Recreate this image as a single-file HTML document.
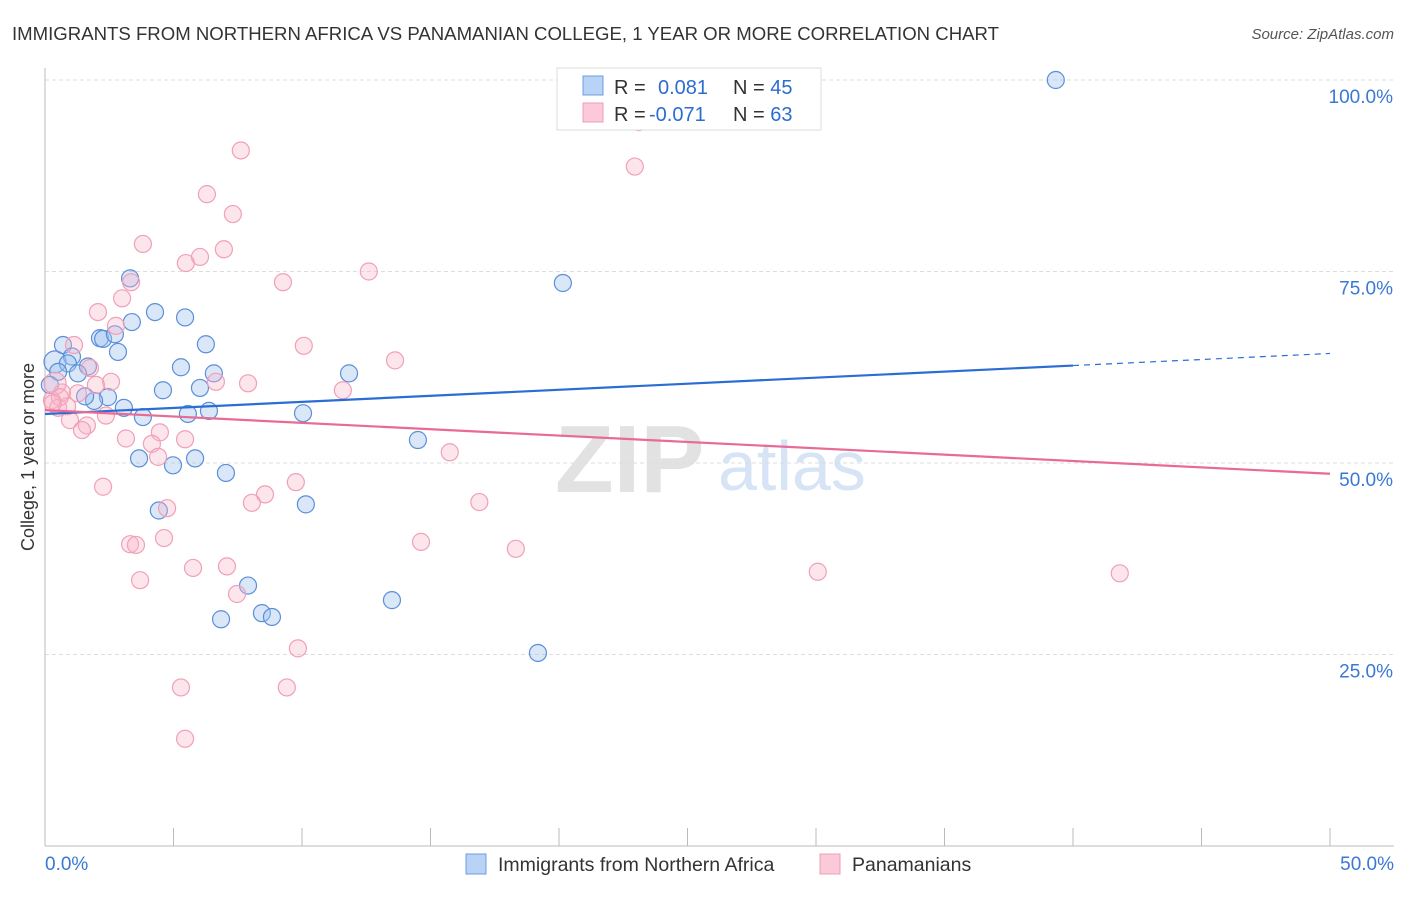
<!DOCTYPE html>
<html><head><meta charset="utf-8"><style>
body{margin:0;background:#fff;font-family:"Liberation Sans",sans-serif}
svg text{font-family:"Liberation Sans",sans-serif}
</style></head><body>
<svg id="chart" width="1406" height="892" xmlns="http://www.w3.org/2000/svg">
<text x="12" y="40" font-size="18.5" fill="#333" textLength="987" lengthAdjust="spacingAndGlyphs">IMMIGRANTS FROM NORTHERN AFRICA VS PANAMANIAN COLLEGE, 1 YEAR OR MORE CORRELATION CHART</text>
<text x="1394" y="39" font-size="15" fill="#555" text-anchor="end" font-style="italic">Source: ZipAtlas.com</text>
<g>
<text x="555" y="492" font-size="96" fill="#e2e2e2" font-family="Liberation Serif,serif" font-weight="bold">ZIP</text>
<text x="718" y="490" font-size="70" fill="#d6e4f5">atlas</text>
</g>
<g id="grid"></g>
<g id="axes"></g>
<g id="pts"></g>
<g id="lines"></g>
<text transform="translate(34,457) rotate(-90)" font-size="18" fill="#333" text-anchor="middle">College, 1 year or more</text>
<g>
<rect x="557" y="68" width="264" height="62" fill="#fff" stroke="#ddd"/>
<rect x="583" y="76" width="20" height="19" fill="#b8d3f5" stroke="#6d9de0"/>
<rect x="583" y="103" width="20" height="19" fill="#fbc9d7" stroke="#ee9fb8"/>
<text x="614" y="94" font-size="20" fill="#333">R = </text>
<text x="658" y="94" font-size="20" fill="#2d6cd0">0.081</text>
<text x="733" y="94" font-size="20" fill="#333">N = <tspan fill="#2d6cd0">45</tspan></text>
<text x="614" y="121" font-size="20" fill="#333">R = </text>
<text x="649" y="121" font-size="20" fill="#2d6cd0">-0.071</text>
<text x="733" y="121" font-size="20" fill="#333">N = <tspan fill="#2d6cd0">63</tspan></text>
</g>
<g>
<rect x="466" y="854" width="20" height="20" fill="#b8d3f5" stroke="#6d9de0"/>
<text x="498" y="871" font-size="19.5" fill="#333">Immigrants from Northern Africa</text>
<rect x="820" y="854" width="20" height="20" fill="#fbc9d7" stroke="#ee9fb8"/>
<text x="852" y="871" font-size="19.5" fill="#333">Panamanians</text>
</g>
</svg>
<script>
const blueX=[39.33,20.15,0.39,0.70,1.05,0.89,0.51,1.67,1.28,2.14,2.26,2.72,2.84,3.31,3.38,4.28,5.45,6.26,5.29,4.59,6.57,6.03,6.38,5.56,3.07,2.45,1.91,1.56,3.81,3.66,4.98,5.84,7.04,4.43,10.15,10.04,11.83,14.51,7.90,6.85,8.44,8.83,13.50,19.18,0.19];
const blueY=[100,73.5,63.2,65.4,63.9,63.0,61.9,62.6,61.7,66.3,66.2,66.8,64.5,74.1,68.4,69.7,69.0,65.5,62.5,59.5,61.7,59.8,56.8,56.4,57.2,58.6,58.1,58.7,56.0,50.6,49.7,50.6,48.7,43.8,44.6,56.5,61.7,53.0,34.0,29.6,30.4,29.9,32.1,25.2,60.2];
const pinkX=[23.1,22.95,7.62,6.30,7.31,3.81,6.03,5.48,6.96,12.60,9.26,3.35,3.00,2.06,2.76,1.13,10.07,13.62,1.75,6.65,7.90,11.59,2.57,1.98,1.28,0.66,0.27,0.51,0.86,2.37,0.97,1.63,1.44,3.15,4.47,5.45,4.16,4.40,15.75,2.26,9.76,8.56,8.05,16.90,4.75,4.63,3.31,3.54,14.63,18.32,5.76,7.08,3.70,7.47,30.07,41.82,9.84,5.29,9.41,5.45,0.39,0.58,0.3];
const pinkY=[94.5,88.7,90.8,85.1,82.5,78.6,76.9,76.1,77.9,75.0,73.6,73.6,71.5,69.7,67.9,65.4,65.3,63.4,62.4,60.6,60.4,59.5,60.6,60.2,59.1,59.2,58.2,57.2,57.4,56.2,55.6,54.9,54.3,53.2,54.0,53.1,52.5,50.8,51.4,46.9,47.5,45.9,44.8,44.9,44.1,40.2,39.4,39.3,39.7,38.8,36.3,36.5,34.7,32.9,35.8,35.6,25.8,20.7,20.7,14.0,60.4,58.6,57.8];
const blueTrend=[56.4,64.3];
const pinkTrend=[56.9,48.6];
const yTicks=[25,50,75,100];
const xTickLabels=["0.0%","50.0%"];
const NS="http://www.w3.org/2000/svg";
const X=v=>45+v/50*1285, Y=v=>846-v/100*766;
function mk(tag,attrs,parent){const e=document.createElementNS(NS,tag);for(const k in attrs)e.setAttribute(k,attrs[k]);parent.appendChild(e);return e;}
const grid=document.getElementById('grid'),axes=document.getElementById('axes'),pts=document.getElementById('pts'),lines=document.getElementById('lines');
yTicks.forEach(t=>{
 const l=mk('line',{x1:45,x2:1394,y1:Y(t),y2:Y(t),stroke:'#ddd','stroke-dasharray':'4,3'},grid);
 
 
 const tx=mk('text',{x:1393,y:Y(t)+23,'font-size':19,fill:'#3a78d4','text-anchor':'end'},grid);
 tx.textContent=t.toFixed(1)+'%';
 
 
});
const ax=mk('line',{x1:45,x2:45,y1:68,y2:846,stroke:'#bbb'},axes);


const bx=mk('line',{x1:45,x2:1394,y1:846,y2:846,stroke:'#bbb'},axes);


for(let i=0;i<=10;i++){const t=mk('line',{x1:X(i*5),x2:X(i*5),y1:828,y2:846,stroke:'#bbb'},axes);
 
 }
[[0,'start',45],[50,'end',1394]].forEach((d,i)=>{const t=mk('text',{x:d[2],y:870,'font-size':19,fill:'#3a78d4','text-anchor':d[1]},axes);t.textContent=xTickLabels[i];
 
 });
blueX.forEach((v,i)=>{const c=mk('circle',{cx:X(v),cy:Y(blueY[i]),r:i==2?11:8.5,fill:'rgba(160,196,240,0.4)',stroke:'#5b8fd8','stroke-width':1.2},pts);
 
 });
pinkX.forEach((v,i)=>{const c=mk('circle',{cx:X(v),cy:Y(pinkY[i]),r:i==60?11:8.5,fill:'rgba(248,180,200,0.35)',stroke:'#f0a0b8','stroke-width':1.2},pts);
 
 });
const bt=v=>blueTrend[0]+(blueTrend[1]-blueTrend[0])*v/50;
const l1=mk('line',{x1:X(0),y1:Y(bt(0)),x2:X(40),y2:Y(bt(40)),stroke:'#2a6dd4','stroke-width':2.2},lines);


const l2=mk('line',{x1:X(40),y1:Y(bt(40)),x2:X(50),y2:Y(bt(50)),stroke:'#2a6dd4','stroke-width':1.2,'stroke-dasharray':'6,5'},lines);


const l3=mk('line',{x1:X(0),y1:Y(pinkTrend[0]),x2:X(50),y2:Y(pinkTrend[1]),stroke:'#e86a95','stroke-width':2.2},lines);


</script>
</body></html>
